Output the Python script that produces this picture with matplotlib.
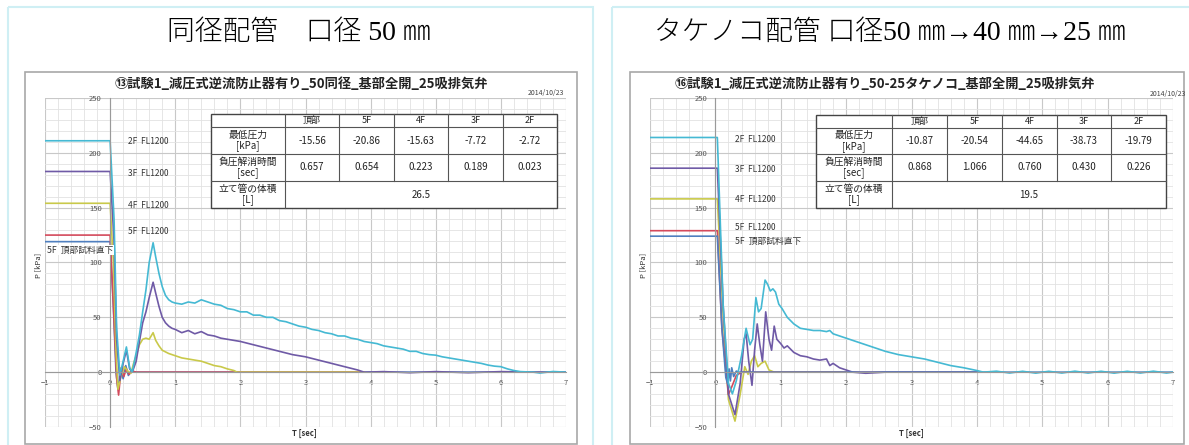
import matplotlib
matplotlib.use("Agg")
import matplotlib.pyplot as plt
from matplotlib.patches import Rectangle
from matplotlib.transforms import Affine2D

plt.rcParams['font.family'] = ['Noto Sans CJK JP', 'DejaVu Sans']

# ---- data: pressure at each floor vs time ----
floors = ['頂部', '5F', '4F', '3F', '2F']
table_rows = ['最低圧力\n[kPa]', '負圧解消時間\n[sec]', '立て管の体積\n[L]']

# same-diameter pipe (50 mm)
a_min_p = ['-15.56', '-20.86', '-15.63', '-7.72', '-2.72']
a_recover = ['0.657', '0.654', '0.223', '0.189', '0.023']
a_volume = '26.5'

a_t_2f = [-1, 0.0, 0.06, 0.1, 0.15, 0.2, 0.25, 0.3, 0.34, 0.4, 0.45, 0.5, 0.55, 0.6, 0.66,
          0.7, 0.75, 0.8, 0.85, 0.9, 0.95, 1.0, 1.1, 1.2, 1.3, 1.4, 1.5, 1.6, 1.7, 1.8, 1.9,
          2.0, 2.1, 2.2, 2.3, 2.4, 2.5, 2.6, 2.7, 2.8, 2.9, 3.0, 3.1, 3.2, 3.3, 3.4, 3.5, 3.6,
          3.7, 3.8, 3.9, 4.0, 4.1, 4.2, 4.3, 4.4, 4.5, 4.6, 4.7, 4.8, 4.9, 5.0, 5.1, 5.2, 5.3,
          5.4, 5.5, 5.6, 5.7, 5.8, 5.9, 6.0, 6.1, 6.2, 6.3, 6.5, 6.6, 6.8, 7.0]
a_p_2f = [211, 211, 140, 40, -2.7, 10, 23, 4, 0, 18, 34, 55, 75, 100, 118,
          105, 90, 78, 70, 66, 64, 63, 62, 64, 63, 66, 64, 62, 61, 58, 57,
          55, 55, 52, 52, 50, 50, 47, 46, 44, 42, 41, 39, 38, 36, 35, 33, 33,
          31, 30, 28, 27, 26, 24, 23, 22, 21, 19, 19, 17, 16, 15.5, 14, 13, 12,
          11, 10, 9, 8, 6.5, 5.5, 5, 3, 1.5, 0.5, 0, -0.8, 0.6, 0]

a_t_3f = [-1, 0.0, 0.06, 0.1, 0.15, 0.2, 0.25, 0.3, 0.34, 0.4, 0.45, 0.5, 0.55, 0.6, 0.66,
          0.7, 0.75, 0.8, 0.85, 0.9, 0.95, 1.0, 1.1, 1.2, 1.3, 1.4, 1.5, 1.6, 1.7, 1.8, 1.9,
          2.0, 2.2, 2.4, 2.6, 2.8, 3.0, 3.2, 3.4, 3.6, 3.8, 3.9, 4.2, 4.6, 5.0, 5.5, 6.0, 6.5, 7.0]
a_p_3f = [183, 183, 120, 30, -7.7, 8, 20, 3, 0, 10, 28, 45, 55, 68, 82,
          72, 60, 50, 45, 42, 40, 39, 36, 38, 35, 37, 34, 33, 31, 30, 29,
          28, 25, 22, 19, 16, 14, 11, 8, 5, 2, 0, 0.5, -0.5, 0.5, -0.5, 0.5, 0, 0]

a_t_4f = [-1, 0.0, 0.05, 0.09, 0.12, 0.17, 0.22, 0.27, 0.32, 0.36, 0.4, 0.45, 0.5, 0.55, 0.6,
          0.66, 0.7, 0.75, 0.8, 0.9, 1.0, 1.1, 1.2, 1.3, 1.4, 1.5, 1.6, 1.7, 1.8, 1.9, 1.95,
          3.0, 3.9]
a_p_4f = [154, 154, 100, 20, -15.6, -3, 5, 1, -1, 8, 15, 25, 30, 31, 30,
          36, 29, 24, 20, 17, 15, 13, 12, 11, 10, 8, 6, 5, 3, 1.5, 0,
          0, 0]

a_t_5f = [-1, 0.0, 0.05, 0.1, 0.13, 0.17, 0.21, 0.25, 0.29, 0.33, 0.4, 2.0, 3.9]
a_p_5f = [125, 125, 60, -5, -20.9, 4, -4, 3, -2, 1, 0, 0, 0]

a_t_top = [-1, 0.0, 0.05, 0.09, 0.12, 0.16, 0.2, 0.24, 0.28, 0.33, 0.4, 7.0]
a_p_top = [119, 119, 60, 0, -15.6, 2, -6, 6, -3, 1, 0, 0]

# reducing pipe (50 -> 40 -> 25 mm)
b_min_p = ['-10.87', '-20.54', '-44.65', '-38.73', '-19.79']
b_recover = ['0.868', '1.066', '0.760', '0.430', '0.226']
b_volume = '19.5'

b_t_2f = [-1, 0.03, 0.12, 0.2, 0.26, 0.32, 0.4, 0.47, 0.53, 0.57, 0.62, 0.66, 0.7, 0.76,
          0.8, 0.84, 0.88, 0.92, 0.97, 1.02, 1.1, 1.2, 1.3, 1.4, 1.5, 1.6, 1.7, 1.75, 1.8,
          1.9, 2.0, 2.2, 2.4, 2.6, 2.8, 3.0, 3.2, 3.4, 3.6, 3.8, 4.0, 4.1, 4.3, 4.5, 4.7,
          4.9, 5.1, 5.3, 5.5, 5.7, 5.9, 6.1, 6.3, 6.5, 6.7, 6.9, 7.0]
b_p_2f = [214, 214, 60, -10, -19.8, -8, 15, 40, 25, 30, 68, 55, 58, 84,
          80, 74, 76, 73, 62, 58, 50, 44, 40, 39, 38, 38, 37, 38, 35,
          33, 31, 27, 23, 19, 16, 14, 12, 9, 6, 4, 1.5, 0, 0.9, -0.8, 0.8,
          -0.9, 0.8, -0.8, 0.9, -0.8, 0.8, -0.9, 0.8, -0.8, 0.9, -0.8, 0]

b_t_3f = [-1, 0.03, 0.12, 0.2, 0.3, 0.38, 0.44, 0.47, 0.51, 0.56, 0.6, 0.64, 0.68, 0.72,
          0.77, 0.82, 0.86, 0.9, 0.94, 1.0, 1.05, 1.1, 1.2, 1.3, 1.4, 1.5, 1.6, 1.7, 1.75,
          1.8, 1.9, 2.0, 2.1, 2.3, 2.6, 4.0]
b_p_3f = [186, 186, 60, -20, -38.7, -10, 30, 35, 10, -12, 20, 44, 25, 10,
          55, 30, 20, 42, 30, 26, 22, 24, 18, 15, 14, 12, 11, 12, 6,
          8, 4, 2, 0, -1, 0, 0]

b_t_4f = [-1, 0.03, 0.12, 0.2, 0.3, 0.38, 0.45, 0.5, 0.55, 0.6, 0.65, 0.7, 0.76, 0.82,
          0.9, 2.0]
b_p_4f = [158, 158, 50, -25, -44.65, -20, 5, -2, 10, 15, 5, 8, 10, 2,
          0, 0]

b_t_5f = [-1, 0.03, 0.1, 0.2, 0.26, 0.32, 0.4, 4.0]
b_p_5f = [129, 129, 40, -20.5, -12, -3, 0, 0]

b_t_top = [-1, 0.03, 0.1, 0.16, 0.19, 0.21, 0.23, 0.25, 0.28, 0.32, 0.36, 7.0]
b_p_top = [124, 124, 40, -5, -10.87, 3, -8, 4, -4, 1, 0, 0]

x_major = [-1, 0, 1, 2, 3, 4, 5, 6, 7]
y_major = [-50, 0, 50, 100, 150, 200, 250]
x_minor = [i / 5 for i in range(-5, 36)]
y_minor = list(range(-50, 251, 10))

colors = {'2F': '#45b9d3', '3F': '#6f5aa6', '4F': '#c9c94a', '5F': '#d44a5c', 'top': '#4f7fbf'}

W, H = 1189, 445
fig = plt.figure(figsize=(W / 100, H / 100), dpi=100)
fig.patch.set_facecolor('white')
# pixel coordinates, origin top-left
px = Affine2D().scale(1 / W, -1 / H).translate(0, 1) + fig.transFigure


def box(x0, y0, x1, y1, ec, lw, fc='none', z=1):
    fig.add_artist(Rectangle((x0, y0), x1 - x0, y1 - y0, transform=px, fill=fc != 'none',
                             fc=fc if fc != 'none' else 'white', ec=ec, lw=lw, zorder=z))


def draw_table(xs, ys, min_p, recover, volume):
    box(xs[0], ys[0], xs[-1], ys[-1], '#444444', 1.0, fc='white', z=5)
    for y in ys[1:-1]:
        fig.add_artist(plt.Line2D([xs[0], xs[-1]], [y, y], transform=px, color='#555555', lw=0.8, zorder=6))
    for x in xs[1:-1]:
        fig.add_artist(plt.Line2D([x, x], [ys[0], ys[3]], transform=px, color='#555555', lw=0.8, zorder=6))
    fig.add_artist(plt.Line2D([xs[1], xs[1]], [ys[3], ys[4]], transform=px, color='#555555', lw=0.8, zorder=6))
    kw = dict(transform=px, ha='center', va='center', color='#222222', zorder=7)
    for i, name in enumerate(floors):
        cx = (xs[i + 1] + xs[i + 2]) / 2
        fig.text(cx, (ys[0] + ys[1]) / 2, name, fontsize=6.5, **kw)
        fig.text(cx, (ys[1] + ys[2]) / 2, min_p[i], fontsize=7, **kw)
        fig.text(cx, (ys[2] + ys[3]) / 2, recover[i], fontsize=7, **kw)
    for r, label in enumerate(table_rows):
        fig.text((xs[0] + xs[1]) / 2, (ys[r + 1] + ys[r + 2]) / 2, label, fontsize=7,
                 linespacing=1.05, **kw)
    fig.text((xs[1] + xs[-1]) / 2, (ys[3] + ys[4]) / 2, volume, fontsize=7, **kw)


def draw_chart(x_left, x_right, series, labels_x, label_ys, top_label, bg_label):
    ax = fig.add_axes([x_left / W, 1 - 427 / H, (x_right - x_left) / W, (427 - 98) / H])
    ax.set_xlim(-1, 7)
    ax.set_ylim(-50, 250)
    ax.set_xticks(x_major)
    ax.set_yticks(y_major)
    ax.set_xticks(x_minor, minor=True)
    ax.set_yticks(y_minor, minor=True)
    ax.grid(which='minor', color='#e2e2e2', lw=0.6)
    ax.grid(which='major', color='#c8c8c8', lw=0.8)
    ax.set_axisbelow(True)
    for s in ['top', 'right']:
        ax.spines[s].set_visible(False)
    for s in ['left', 'bottom']:
        ax.spines[s].set_position(('data', 0))
        ax.spines[s].set_color('#9a9a9a')
        ax.spines[s].set_linewidth(0.8)
    ax.tick_params(which='both', length=0, labelsize=5.5, labelcolor='#555555')
    ax.tick_params(axis='y', pad=6)
    ax.tick_params(axis='x', pad=5)
    ax.set_facecolor('none')
    for t, p, key in series:
        ax.plot(t, p, color=colors[key], lw=1.2)
    for y, key in zip(label_ys, ['2F', '3F', '4F', '5F']):
        fig.text(labels_x, y, key + '  FL1200', transform=px, ha='left', va='center', fontsize=6, color='#333333')
    tx, ty = top_label
    kw = dict(bbox=dict(fc='white', ec='none', pad=0.6)) if bg_label else {}
    fig.text(tx, ty, '5F  頂部試料直下', transform=px, ha='left', va='center', fontsize=6.3, color='#333333', **kw)
    return ax


# outer panels
box(8, 7, 593, 450, '#cfeff4', 1.5)
box(612, 7, 1195, 450, '#cfeff4', 1.5)

title_font = ['Liberation Serif', 'Noto Sans CJK JP']
fig.text(299, 33, '同径配管　口径 50 ㎜', transform=px, ha='center', va='center', fontsize=20,
         family=title_font, fontweight='light')
fig.text(890, 33, 'タケノコ配管 口径50 ㎜→40 ㎜→25 ㎜', transform=px, ha='center', va='center', fontsize=20,
         family=title_font, fontweight='light')

# chart frames
box(25, 72, 577, 444, '#a8a8a8', 1.2)
box(630, 72, 1184, 444, '#a8a8a8', 1.2)

fig.text(301, 84, '⑬試験1_減圧式逆流防止器有り_50同径_基部全開_25吸排気弁', transform=px, ha='center', va='center',
         fontsize=9.5, fontweight='bold', color='#222222')
fig.text(885, 84, '⑯試験1_減圧式逆流防止器有り_50-25タケノコ_基部全開_25吸排気弁', transform=px, ha='center',
         va='center', fontsize=9.5, fontweight='bold', color='#222222')
fig.text(546, 93, '2014/10/23', transform=px, ha='center', va='center', fontsize=5, color='#444444')
fig.text(1168, 94, '2014/10/23', transform=px, ha='center', va='center', fontsize=5, color='#444444')

draw_chart(45, 566,
           [(a_t_top, a_p_top, 'top'), (a_t_5f, a_p_5f, '5F'), (a_t_4f, a_p_4f, '4F'),
            (a_t_3f, a_p_3f, '3F'), (a_t_2f, a_p_2f, '2F')],
           128, [142, 173, 205, 232], (47, 250), True)
draw_chart(650, 1173,
           [(b_t_4f, b_p_4f, '4F'), (b_t_5f, b_p_5f, '5F'), (b_t_3f, b_p_3f, '3F'),
            (b_t_top, b_p_top, 'top'), (b_t_2f, b_p_2f, '2F')],
           735, [139, 169, 200, 228], (735, 241), False)

for x in (304, 911):
    fig.text(x, 433, 'T [sec]', transform=px, ha='center', va='center', fontsize=5.5, fontweight='bold', color='#333333')
for x in (38, 643):
    fig.text(x, 265, 'P [kPa]', transform=px, ha='center', va='center', fontsize=5.5, rotation=90, color='#333333')

draw_table([211, 285, 339, 394, 448, 503, 557], [114, 127, 154, 181, 208], a_min_p, a_recover, a_volume)
draw_table([816, 892, 947, 1002, 1057, 1111, 1166], [115, 128, 154, 181, 208], b_min_p, b_recover, b_volume)

fig.savefig('out.png', dpi=100)
